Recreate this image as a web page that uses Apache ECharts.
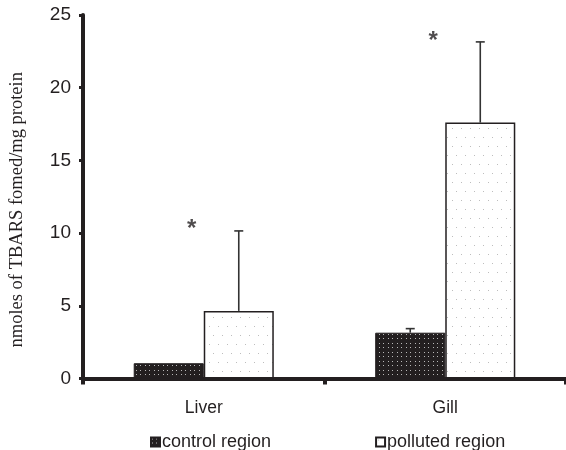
<!DOCTYPE html>
<html>
<head>
<meta charset="utf-8">
<script src="https://cdn.jsdelivr.net/npm/echarts@6/dist/echarts.min.js"></script>
<style>
  html, body { margin: 0; padding: 0; background: #fff; }
  #chart { width: 566px; height: 450px; }
</style>
</head>
<body>
<div id="chart"></div>
<script>
const categories = ["Liver", "Gill"];
const controlValues = [1.05, 3.15];
const controlSd = [0, 0.28];
const pollutedValues = [4.65, 17.6];
const pollutedSd = [5.5, 5.55];
const starValues = [10.7, 23.6];
const yTicks = { min: 0, max: 25, interval: 5 };

const ink = "#231f20";
const sans = "Liberation Sans";
const serif = "Liberation Serif";
const BAR_RATIO = 0.29;

// dotted fill tiles
function makePattern(bg, dotColor, dots, w, h) {
  const c = document.createElement("canvas");
  c.width = w;
  c.height = h;
  const ctx = c.getContext("2d");
  ctx.fillStyle = bg;
  ctx.fillRect(0, 0, w, h);
  ctx.fillStyle = dotColor;
  dots.forEach(([x, y]) => ctx.fillRect(x, y, 1, 1));
  return { image: c, repeat: "repeat" };
}

const controlFill = makePattern(ink, "#b8b8b8", [[1, 1], [5, 1], [1, 5], [5, 5]], 9, 9);
const pollutedFill = makePattern("#ffffff", "#bdbdbd", [[2, 2], [11, 2], [6, 11], [15, 11]], 18, 18);

function errorSeries(name, values, sd, side) {
  return {
    name: name + " err",
    type: "custom",
    silent: true,
    z: 5,
    data: values.map((v, i) => [i, v, v + sd[i]]),
    renderItem: (params, api) => {
      const i = api.value(0);
      const top = api.value(2);
      const base = api.value(1);
      if (top <= base) return null;
      const band = api.size([1, 0])[0];
      const p0 = api.coord([i, base]);
      const p1 = api.coord([i, top]);
      const x = p0[0] + side * band * BAR_RATIO / 2;
      const style = { stroke: "#333", lineWidth: 1.6 };
      return {
        type: "group",
        children: [
          { type: "line", shape: { x1: x, y1: p0[1], x2: x, y2: p1[1] }, style },
          { type: "line", shape: { x1: x - 4.5, y1: p1[1], x2: x + 4.5, y2: p1[1] }, style },
        ],
      };
    },
  };
}

const chart = echarts.init(document.getElementById("chart"));

chart.setOption({
  animation: false,
  grid: { left: 81, right: 0, top: 15, bottom: 71.5 },
  legend: {
    data: ["control region", "polluted region"],
    left: 145,
    top: 428,
    icon: "rect",
    itemWidth: 9,
    itemHeight: 9,
    itemGap: 104,
    textStyle: { fontFamily: sans, fontSize: 18, color: ink, padding: [0, 0, 0, -3] },
  },
  xAxis: {
    type: "category",
    data: categories,
    axisLine: { lineStyle: { color: ink, width: 4 } },
    axisTick: { show: true, length: 6, lineStyle: { color: ink, width: 4 } },
    axisLabel: { fontFamily: sans, fontSize: 17.5, color: ink, margin: 21 },
  },
  yAxis: {
    type: "value",
    min: yTicks.min,
    max: yTicks.max,
    interval: yTicks.interval,
    name: "nmoles of TBARS fomed/mg protein",
    nameLocation: "middle",
    nameGap: 56,
    nameTextStyle: { fontFamily: serif, fontSize: 18.5, color: ink, padding: [0, 26, 0, 0] },
    axisLine: { show: true, lineStyle: { color: ink, width: 4 } },
    axisTick: { show: true, length: 4, lineStyle: { color: ink, width: 3 } },
    axisLabel: { fontFamily: sans, fontSize: 19, color: ink, margin: 12 },
    splitLine: { show: false },
  },
  series: [
    {
      name: "control region",
      type: "bar",
      data: controlValues,
      barWidth: BAR_RATIO * 100 + "%",
      barGap: "0%",
      itemStyle: { color: controlFill, borderColor: ink, borderWidth: 1 },
    },
    {
      name: "polluted region",
      type: "bar",
      data: pollutedValues,
      barWidth: BAR_RATIO * 100 + "%",
      barGap: "0%",
      itemStyle: { color: pollutedFill, borderColor: ink, borderWidth: 1.5 },
    },
    errorSeries("control region", controlValues, controlSd, -1),
    errorSeries("polluted region", pollutedValues, pollutedSd, 1),
    {
      name: "significance",
      type: "scatter",
      silent: true,
      data: starValues,
      symbolSize: 1,
      itemStyle: { color: "rgba(0,0,0,0)" },
      label: {
        show: true,
        position: "inside",
        formatter: "*",
        fontFamily: sans,
        fontWeight: "bold",
        fontSize: 24,
        color: ink,
        offset: [-12, 6],
      },
    },
  ],
});
</script>
</body>
</html>
